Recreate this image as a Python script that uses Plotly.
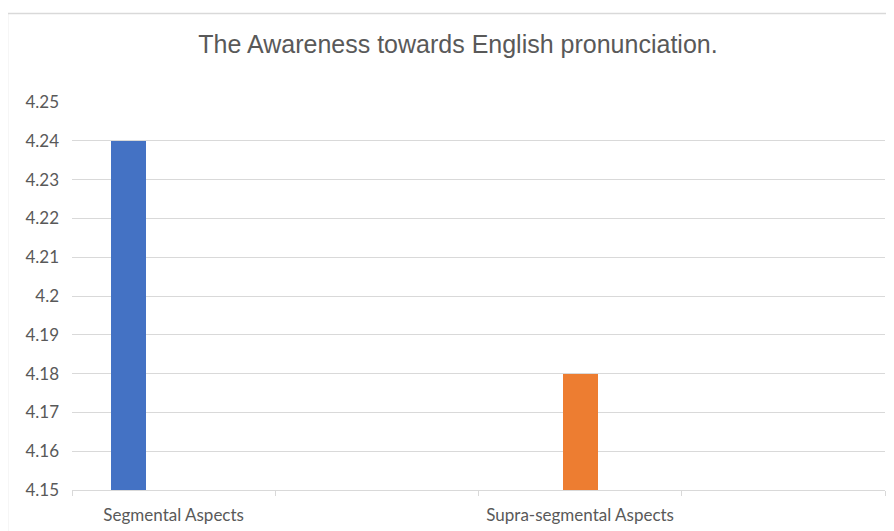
import plotly.graph_objects as go

# Data
categories = ["Segmental Aspects", "Supra-segmental Aspects"]
series_names = ["Segmental", "Supra-segmental"]
values = [4.24, 4.18]
colors = ["#4472C4", "#ED7D31"]
y_ticks = [4.15, 4.16, 4.17, 4.18, 4.19, 4.2, 4.21, 4.22, 4.23, 4.24, 4.25]
y_tick_labels = ["4.15", "4.16", "4.17", "4.18", "4.19", "4.2", "4.21", "4.22", "4.23", "4.24", "4.25"]

# Layout of category slots (Excel-like clustered placement)
slot_index = [0, 2]          # each category occupies a slot; blank slots between
bar_offsets = [0.278, 0.502]  # position of bar inside its slot
bar_width = 0.172
n_slots = 4
base = 4.15

# page body has an 8px margin; compensate so the figure fills the 894x531 window
W, H = 886, 523

fig = go.Figure()
for i in range(len(values)):
    fig.add_trace(go.Bar(
        x=[slot_index[i] + bar_offsets[i]],
        y=[values[i] - base],
        base=[base],
        width=[bar_width],
        marker=dict(color=colors[i], line=dict(width=0)),
        name=series_names[i],
        showlegend=False,
        hoverinfo="y",
    ))

fig.update_layout(
    width=W, height=H,
    margin=dict(l=64, r=9, t=94, b=41, autoexpand=False),
    paper_bgcolor="white", plot_bgcolor="white",
    title=dict(
        text="The Awareness towards English pronunciation.",
        font=dict(family="Liberation Sans, Arial, sans-serif", size=25, color="#595959"),
        x=(458 - 8) / W, xanchor="center", xref="container",
        y=1 - (44 - 8) / H, yanchor="middle", yref="container",
    ),
    xaxis=dict(
        range=[0, n_slots],
        tickmode="array",
        tickvals=[s + 0.5 for s in slot_index],
        ticktext=categories,
        ticks="",
        showgrid=False,
        zeroline=False,
        automargin=False,
        showline=True, linecolor="#d9d9d9", linewidth=1,
        ticklabelstandoff=10,
        tickfont=dict(family="Lato, Carlito, sans-serif", size=17, color="#595959"),
        minor=dict(tickmode="array", tickvals=list(range(n_slots + 1)),
                   ticks="outside", ticklen=5, tickcolor="#d9d9d9", tickwidth=1,
                   showgrid=False),
        fixedrange=True,
    ),
    yaxis=dict(
        range=[base, 4.25],
        tickmode="array",
        tickvals=y_ticks,
        ticktext=y_tick_labels,
        showgrid=True, gridcolor="#d9d9d9", gridwidth=1,
        zeroline=False, showline=False, ticks="",
        automargin=False,
        ticklabelstandoff=12,
        tickfont=dict(family="Lato, Carlito, sans-serif", size=17, color="#595959"),
        fixedrange=True,
    ),
    bargap=0,
    shapes=[dict(
        type="rect", xref="paper", yref="paper",
        x0=(7.5 - 72) / 813, x1=1.05,
        y0=-0.2, y1=1 + (102 - 13.5) / 388,
        line=dict(color="#d9d9d9", width=1.5), fillcolor="rgba(0,0,0,0)",
        layer="below",
    )],
)

fig.write_html("out.html")
